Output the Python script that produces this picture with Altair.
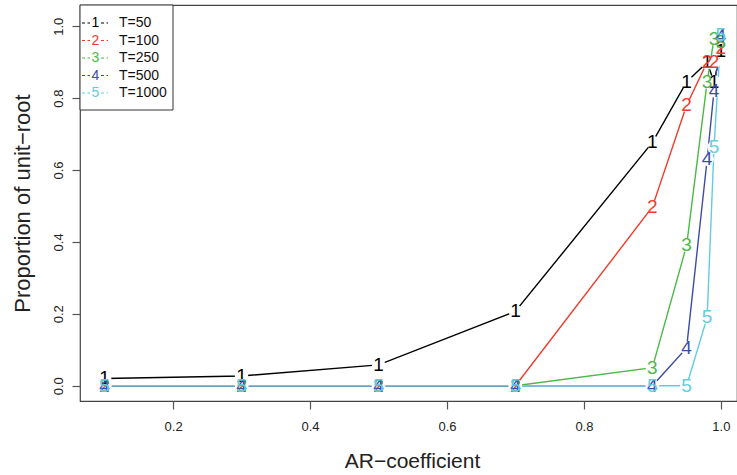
import altair as alt
import pandas as pd

# ---- data ----
ar_coef = [0.1, 0.3, 0.5, 0.7, 0.9, 0.95, 0.98, 0.99, 1.0]
series_names = ["T=50", "T=100", "T=250", "T=500", "T=1000"]
digits = ["1", "2", "3", "4", "5"]
colors = ["#000000", "#F03C2B", "#4CB848", "#3B4BA8", "#62CDE0"]
p_t50 = [0.02, 0.027, 0.058, 0.207, 0.677, 0.845, 0.90, 0.845, 0.93]
p_t100 = [0.0, 0.0, 0.0, 0.0, 0.497, 0.78, 0.90, 0.90, 0.94]
p_t250 = [0.0, 0.0, 0.0, 0.0, 0.05, 0.39, 0.845, 0.965, 0.955]
p_t500 = [0.0, 0.0, 0.0, 0.0, 0.0, 0.105, 0.63, 0.82, 0.972]
p_t1000 = [0.0, 0.0, 0.0, 0.0, 0.0, 0.0, 0.19, 0.663, 0.975]
x_ticks = [0.2, 0.4, 0.6, 0.8, 1.0]
y_ticks = [0.0, 0.2, 0.4, 0.6, 0.8, 1.0]

all_series = [p_t50, p_t100, p_t250, p_t500, p_t1000]
rows = []
for i, (name, vals) in enumerate(zip(series_names, all_series)):
    for x, y in zip(ar_coef, vals):
        rows.append({"series": name, "idx": i, "digit": digits[i], "ar": x, "prop": y})
df = pd.DataFrame(rows)

FONT = "Liberation Sans"
W, H = 657, 396

xs = alt.Scale(domain=[0.064, 1.0236], nice=False, zero=False)
ys = alt.Scale(domain=[-0.0426, 1.059], nice=False, zero=False)
cscale = alt.Scale(domain=series_names, range=colors)

xaxis = alt.Axis(values=x_ticks, format=".1f", tickSize=8, labelPadding=11,
                 labelFontSize=13, labelFont=FONT, labelColor="#222",
                 tickColor="#555", tickWidth=1.2, labelFlush=False,
                 title="AR−coefficient", titleFont=FONT, titleFontSize=21,
                 titleFontWeight="normal", titleColor="#222",
                 titleBaseline="alphabetic", titleY=66, titleX=332, titleAlign="center")
yaxis = alt.Axis(values=y_ticks, format=".1f", tickSize=8, labelPadding=7,
                 labelAngle=270, labelAlign="center", labelBaseline="bottom",
                 labelFontSize=13, labelFont=FONT, labelColor="#222",
                 tickColor="#555", tickWidth=1.2, labelFlush=False,
                 title="Proportion of unit−root", titleFont=FONT, titleFontSize=22,
                 titleFontWeight="normal", titleColor="#222", titleAngle=270,
                 titleX=-58, titleY=H / 2, titleAlign="center", titleBaseline="middle")

base = alt.Chart(df)
enc_x = alt.X("ar:Q", scale=xs, axis=xaxis)
enc_y = alt.Y("prop:Q", scale=ys, axis=yaxis)
enc_c = alt.Color("series:N", scale=cscale, legend=None)

lines = base.mark_line(strokeWidth=1.4, clip=True).encode(
    x=enc_x, y=enc_y, color=enc_c, order="ar:Q")
gaps = base.mark_circle(color="white", opacity=1, size=180, clip=True).encode(
    x=alt.X("ar:Q", scale=xs), y=alt.Y("prop:Q", scale=ys))
labels = base.mark_text(fontSize=19, font=FONT, align="center", baseline="middle",
                        clip=True).encode(
    x=alt.X("ar:Q", scale=xs), y=alt.Y("prop:Q", scale=ys),
    text="digit:N", color=enc_c)

layers = [lines, gaps, labels]

# ---- legend box (top-left, inside the plot) ----
one = alt.Chart(pd.DataFrame({"a": [0]}))
layers.append(one.mark_rect(fill="white", stroke="#333", strokeWidth=1).encode(
    x=alt.value(0), x2=alt.value(93), y=alt.value(0), y2=alt.value(105)))
for i, name in enumerate(series_names):
    py = 18 + 17.5 * i
    layers.append(one.mark_rule(strokeDash=[3, 2.5], strokeWidth=1, color=colors[i]).encode(
        x=alt.value(2), x2=alt.value(10), y=alt.value(py)))
    layers.append(one.mark_rule(strokeDash=[3, 2.5], strokeWidth=1, color=colors[i]).encode(
        x=alt.value(21), x2=alt.value(28), y=alt.value(py)))
    layers.append(one.mark_text(fontSize=14, font=FONT, align="center", baseline="middle",
                                color=colors[i]).encode(
        x=alt.value(15.5), y=alt.value(py), text=alt.value(digits[i])))
    layers.append(one.mark_text(fontSize=14, font=FONT, align="left", baseline="middle",
                                color="#111").encode(
        x=alt.value(39), y=alt.value(py), text=alt.value(name)))

chart = alt.layer(*layers).properties(
    width=W, height=H,
    autosize=alt.AutoSizeParams(type="none"),
    padding={"left": 80, "top": 5, "right": 0, "bottom": 74},
    background="white",
).configure_view(stroke="#444", strokeWidth=1.2).configure_axis(
    grid=False, domain=False)

chart.save("out.html", embed_options={"renderer": "svg", "actions": False})
